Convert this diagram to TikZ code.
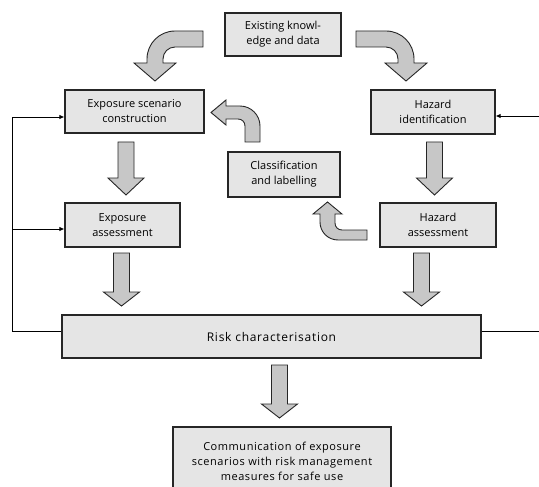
\documentclass[tikz,border=0pt]{standalone}
\usepackage{fontspec}
\setmainfont{Open Sans}
\newfontfamily\widefont[LetterSpace=6]{Open Sans}
\newfontfamily\semiwidefont[LetterSpace=5]{Open Sans}
\usetikzlibrary{arrows.meta,calc}
\newcommand\blockdown[4]{%
  \draw[barrow] ({#1-8},#2) -- ({#1+8},#2) -- ({#1+8},#3) -- ({#1+18},#3) -- (#1,#4) -- ({#1-18},#3) -- ({#1-8},#3) -- cycle;}
\begin{document}
\begin{tikzpicture}[x=1pt,y=-1pt,
  box/.style={draw=black!85, line width=1.1pt, fill=black!10, align=center, inner sep=0pt,
    text=black, font=\fontsize{11}{15}\selectfont},
  barrow/.style={draw=black!85, line width=0.9pt, fill=black!22, line join=miter},
  fbline/.style={draw=black, line width=0.9pt},
  fb/.style={fbline, -{Latex[length=5pt,width=4.5pt]}}]
\useasboundingbox (0,0) rectangle (539,487);
\clip (0,0) rectangle (539,487);
\fill[white] (0,0) rectangle (539,487);

% boxes
\node[box, minimum width=116pt, minimum height=43pt] (know) at (283,34.5) {Existing knowl-\\edge and data};
\node[box, minimum width=139pt, minimum height=43pt] (esc) at (134.5,111.5) {Exposure scenario\\construction};
\node[box, minimum width=115pt, minimum height=44pt] (ea) at (122.5,225) {Exposure\\assessment};
\node[box, minimum width=112pt, minimum height=45pt] (cl) at (284,174.5) {Classification\\and labelling};
\node[box, minimum width=124pt, minimum height=44pt] (hi) at (433,112) {Hazard\\identification};
\node[box, minimum width=116pt, minimum height=44pt] (ha) at (438,225) {Hazard\\assessment};
\node[box, minimum width=419pt, minimum height=43pt] (risk) at (271.5,336.5) {\widefont\fontsize{12}{15}\selectfont Risk characterisation};
\node[box, minimum width=218pt, minimum height=68pt] (comm) at (282,461) {\semiwidefont Communication of exposure\\\semiwidefont scenarios with risk management\\\semiwidefont measures for safe use};

% straight block arrows
\blockdown{126}{142}{178}{195}
\blockdown{434.5}{142}{178}{195}
\blockdown{121.5}{253}{292}{306}
\blockdown{421.5}{253}{292}{306}
\blockdown{279.5}{365}{404}{418}

% curved block arrows
\draw[barrow] (203,31) -- (175,31) .. controls (159.5,31) and (147,43.5) .. (147,59) -- (147,63) -- (134,63) -- (155,81) -- (176,63) -- (163,63) -- (163,59) .. controls (163,52.4) and (168.4,47) .. (175,47) -- (203,47) -- cycle;
\draw[barrow] (356,31) -- (386,31) .. controls (401.5,31) and (414,43.5) .. (414,59) -- (414,63) -- (427,63) -- (406,81) -- (385,63) -- (398,63) -- (398,59) .. controls (398,52.4) and (392.6,47) .. (386,47) -- (356,47) -- cycle;
\draw[barrow] (245,142) -- (260,142) -- (260,126) .. controls (260,115) and (251,106) .. (240,106) -- (226,106) -- (226,100) -- (211,112.5) -- (226,125) -- (226,119) -- (238,119) .. controls (242,119) and (245,122) .. (245,126) -- cycle;
\draw[barrow] (367,230) -- (342,230) .. controls (338,230) and (335,227) .. (335,223) -- (335,214) -- (342,214) -- (327.5,202) -- (313,214) -- (320,214) -- (320,222) .. controls (320,232) and (328,240) .. (338,240) -- (367,240) -- cycle;

% feedback lines
\coordinate (L1) at (12,117);
\coordinate (L2) at (12,229);
\coordinate (L3) at (12,331);
\coordinate (R1) at (545,116);
\coordinate (R3) at (545,331);
\draw[fbline] (risk.west |- L3) -- (L3) -- (L1);
\draw[fb] (L1) -- (esc.west |- L1);
\draw[fb] (L2) -- (ea.west |- L2);
\draw[fb] (risk.east |- R3) -- (R3) -- (R1) -- (hi.east |- R1);
\end{tikzpicture}
\end{document}
